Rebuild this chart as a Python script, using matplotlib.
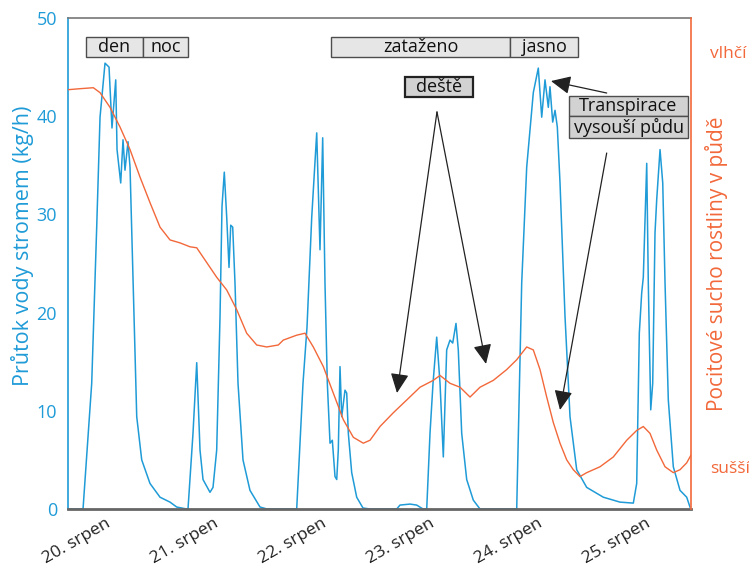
import matplotlib.pyplot as plt
from matplotlib.patches import Rectangle

plt.rcParams['font.family'] = ['Open Sans', 'DejaVu Sans']

# cas v hodinach od 20. srpna 0:00
flow_t = [-1.89, 1.45, 3.38, 4.49, 5.23, 6.34, 7.23, 7.89, 8.72, 9.01, 9.83,
          10.34, 10.78, 11.45, 11.90, 13.39, 14.50, 16.34, 18.57, 20.79, 22.28, 24.50,
          24.79, 25.90, 26.73, 27.46, 28.13, 29.68, 30.35, 31.17, 31.91, 32.35, 32.86,
          33.40, 33.91, 34.29, 34.73, 35.24, 35.91, 37.02, 38.57, 40.80, 42.36,
          48.96, 50.36, 51.25, 52.30, 53.41, 54.14, 54.74, 55.25, 55.77, 56.37, 56.88,
          57.48, 57.86, 58.21, 58.59, 58.97, 59.70, 60.08, 60.44, 61.19, 62.30, 63.70,
          65.26, 71.20, 71.93, 74.16, 75.64, 77.04,
          77.87, 78.60, 79.27, 80.09, 80.83, 81.56, 82.31, 83.05, 83.65, 84.38, 84.89,
          85.65, 86.76, 88.23, 89.72,
          97.88, 98.99, 100.10, 101.57, 102.68, 103.44, 104.17, 104.91, 105.28, 105.88,
          106.40, 106.91, 107.51, 108.62, 109.73, 111.22, 113.44, 117.14, 120.85, 123.81,
          124.56, 125.14, 125.67, 126.03, 126.79, 127.14, 127.68, 128.12, 128.63, 129.01,
          129.75, 130.35, 130.86, 131.59, 132.70, 134.19, 135.68, 136.41]
flow = [0, 0, 12.8, 28.7, 39.9, 45.4, 45.0, 38.8, 43.7, 36.6, 33.2,
        37.6, 34.5, 37.4, 34.8, 9.4, 5.0, 2.6, 1.2, 0.7, 0.2, 0,
        0, 7.7, 14.9, 6.0, 3.0, 1.7, 2.2, 6.0, 19.6, 30.8, 34.3,
        29.7, 24.6, 28.9, 28.7, 23.0, 12.8, 5.0, 1.9, 0.2, 0,
        0, 12.8, 18.5, 29.7, 38.3, 26.4, 37.8, 23.0, 12.8, 6.7, 7.0,
        3.3, 3.0, 6.0, 14.5, 9.4, 12.1, 11.8, 7.7, 3.7, 1.2, 0.1,
        0, 0, 0.4, 0.5, 0.4, 0,
        0, 7.7, 12.8, 17.5, 12.8, 5.3, 16.2, 17.2, 16.9, 18.9, 16.2,
        7.7, 3.0, 0.9, 0,
        0, 23.0, 34.8, 42.4, 44.9, 39.9, 43.7, 40.9, 43.0, 39.4,
        40.6, 38.9, 33.2, 19.6, 9.4, 4.0, 2.2, 1.2, 0.7, 0.6,
        2.6, 17.9, 22.0, 23.6, 35.2, 23.0, 10.1, 12.8, 28.1, 31.5,
        36.6, 33.2, 23.0, 11.1, 4.3, 1.9, 1.2, 0.2]

dry_t = [-1.82, 0.78, 3.74, 5.23, 7.45, 9.67, 11.90, 14.12, 16.34, 18.57, 20.79,
         23.01, 25.24, 26.73, 28.95, 31.17, 33.40, 35.62, 37.84, 40.07, 42.29, 44.87,
         45.98, 48.96, 50.81, 52.65, 54.88, 57.10, 59.32, 61.55, 63.77, 65.26, 67.48,
         70.44, 73.42, 76.38, 79.33, 80.83, 83.05, 85.28, 87.50, 89.72, 92.68, 95.66,
         97.88, 100.10, 101.57, 103.06, 104.55, 106.02, 107.51, 109.00, 110.46, 111.95,
         113.44, 116.40, 119.36, 122.34, 124.56, 126.03, 127.52, 129.01, 130.86, 132.70,
         134.19, 135.68, 136.64]
dry = [42.7, 42.8, 42.9, 42.4, 40.9, 38.9, 36.6, 33.8, 31.2, 28.7, 27.4,
       27.1, 26.7, 26.6, 25.1, 23.6, 22.3, 20.3, 17.9, 16.7, 16.5, 16.7,
       17.2, 17.7, 17.9, 16.5, 14.5, 11.8, 9.1, 7.3, 6.7, 7.0, 8.4,
       9.8, 11.1, 12.4, 13.1, 13.6, 12.8, 12.4, 11.4, 12.4, 13.1, 14.2,
       15.2, 16.5, 16.2, 14.2, 11.4, 8.8, 6.7, 5.0, 4.0, 3.3,
       3.7, 4.3, 5.3, 7.0, 8.0, 8.4, 7.7, 6.0, 4.3, 3.7,
       4.0, 4.7, 5.5]

day_ticks = [0, 24, 48, 72, 96, 120]
day_labels = ["20. srpen", "21. srpen", "22. srpen", "23. srpen", "24. srpen", "25. srpen"]

BLUE = '#1f9bd7'
ORANGE = '#f2683a'
GRAY = '#777777'

fig = plt.figure(figsize=(7.49, 5.73), dpi=100)
ax = fig.add_axes([0.0908, 0.1117, 0.8318, 0.8569])
ax2 = ax.twinx()

ax.plot(flow_t, flow, color=BLUE, lw=1.1)
ax2.plot(dry_t, dry, color=ORANGE, lw=1.0)

for a in (ax, ax2):
    a.set_xlim(-1.89, 136.64)
    a.set_ylim(0, 50)

ax.set_yticks(range(0, 51, 10))
ax.tick_params(axis='y', length=0, pad=8, colors=BLUE, labelsize=13)
ax.set_xticks(day_ticks, day_labels, rotation=30, ha='center')
ax.tick_params(axis='x', length=0, pad=5, labelsize=12.5, labelcolor='#222222')
ax.set_ylabel("Průtok vody stromem (kg/h)", color=BLUE, fontsize=15.5)
ax.yaxis.set_label_coords(-0.054, 0.535)

ax2.set_yticks([46.5, 4.3], ["vlhčí", "sušší"])
ax2.tick_params(axis='y', length=0, pad=14, colors=ORANGE, labelsize=12.5)
ax2.set_ylabel("Pocitové sucho rostliny v půdě", color=ORANGE, fontsize=15)
ax2.yaxis.set_label_coords(1.022, 0.5)

ax.spines['left'].set_color(BLUE)
ax.spines['left'].set_linewidth(1.2)
ax.spines['right'].set_visible(False)
ax.spines['top'].set_color(GRAY)
ax.spines['top'].set_linewidth(1.2)
ax.spines['bottom'].set_color('#666666')
ax.spines['bottom'].set_linewidth(2)
for s in ('left', 'top', 'bottom'):
    ax2.spines[s].set_visible(False)
ax2.spines['right'].set_color(ORANGE)
ax2.spines['right'].set_linewidth(1.2)


def box(x0, x1, y0, y1, text, fc, lw=1.0, ec='#4d4d4d'):
    ax2.add_patch(Rectangle((x0, y0), x1 - x0, y1 - y0, fc=fc, ec=ec, lw=lw, zorder=5))
    ax2.text((x0 + x1) / 2, (y0 + y1) / 2, text, ha='center', va='center',
             fontsize=13, color='#111111', zorder=6)


box(2.11, 14.79, 46.03, 48.07, "den", '#e6e6e6')
box(14.79, 24.79, 46.03, 48.07, "noc", '#e6e6e6')
box(56.59, 96.39, 46.03, 48.07, "zataženo", '#e6e6e6')
box(96.39, 111.51, 46.03, 48.07, "jasno", '#e6e6e6')
box(73.04, 88.16, 41.96, 43.99, "deště", '#d2d2d2', lw=1.6, ec='#222222')
box(109.51, 135.97, 40.02, 42.06, "Transpirace", '#d2d2d2')
box(109.51, 135.97, 37.78, 40.02, "vysouší půdu", '#d2d2d2')

arrows = [((80.15, 40.43), (71.26, 11.81)),
          ((80.15, 40.43), (91.05, 14.77)),
          ((117.89, 42.36), (105.50, 43.58)),
          ((117.89, 36.25), (107.51, 10.08))]
for tail, tip in arrows:
    ax2.annotate("", xy=tip, xytext=tail, zorder=7,
                 arrowprops=dict(arrowstyle='-|>,head_length=0.75,head_width=0.35',
                                 color='#222222', lw=0.9, mutation_scale=16,
                                 shrinkA=0, shrinkB=0))

fig.savefig("out.png", dpi=100)
